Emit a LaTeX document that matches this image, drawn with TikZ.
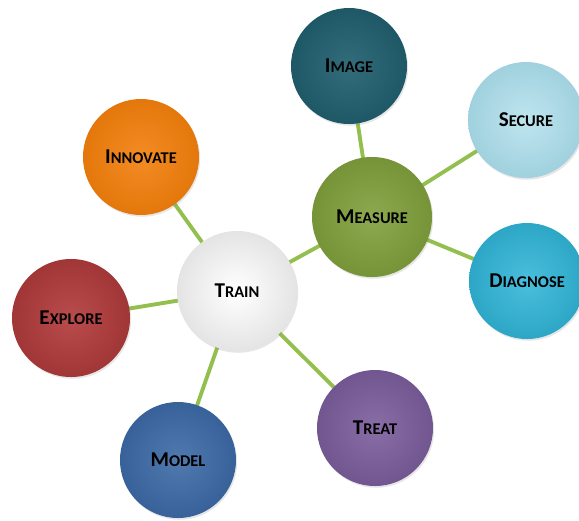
\documentclass[tikz,border=0pt]{standalone}
\usepackage{fontspec}
\setmainfont{Carlito}
\usetikzlibrary{shadows}
\definecolor{imgc}{HTML}{215F6E}
\definecolor{secc}{HTML}{A9DCEA}
\definecolor{innc}{HTML}{F27F0C}
\definecolor{meac}{HTML}{80A03C}
\definecolor{trac}{HTML}{E4E4E4}
\definecolor{diac}{HTML}{31B5D8}
\definecolor{expc}{HTML}{B33C3C}
\definecolor{trec}{HTML}{7B5D9C}
\definecolor{modc}{HTML}{3C6AA6}
\definecolor{linkc}{HTML}{93BF4F}
\newcommand{\capword}[2]{\textbf{{\fontsize{18}{20}\selectfont #1}{\fontsize{14}{16}\selectfont #2}}}
\tikzstyle{bubble} = [circle, minimum size=3.48cm, inner sep=0pt, text=black,
    drop shadow={opacity=0.2, shadow xshift=1pt, shadow yshift=-1.5pt}]
\tikzstyle{link} = [line width=3.3pt, linkc]

\begin{document}
\begin{tikzpicture}[x=0.03cm, y=-0.03cm]
\useasboundingbox (0,0) rectangle (579,520);
\coordinate (c-train) at (237,291);
\coordinate (c-measure) at (372,217);
% connectors first, balls on top
\draw[link] (c-train) -- (141,157) coordinate (c-innovate);
\draw[link] (c-train) -- (71,318) coordinate (c-explore);
\draw[link] (c-train) -- (178,460) coordinate (c-model);
\draw[link] (c-train) -- (375,428) coordinate (c-treat);
\draw[link] (c-train) -- (c-measure);
\draw[link] (c-measure) -- (349,66) coordinate (c-image);
\draw[link] (c-measure) -- (526,120) coordinate (c-secure);
\draw[link] (c-measure) -- (527,281) coordinate (c-diagnose);
\node[bubble, inner color=imgc!92!white, outer color=imgc!92!black] (image) at (c-image) {\capword{I}{MAGE}};
\node[bubble, inner color=secc!75!white, outer color=secc!95!black] (secure) at (c-secure) {\capword{S}{ECURE}};
\node[bubble, inner color=innc!90!white, outer color=innc!94!black] (innovate) at (c-innovate) {\capword{I}{NNOVATE}};
\node[bubble, minimum size=3.6cm, inner color=meac!90!white, outer color=meac!92!black] (measure) at (c-measure) {\capword{M}{EASURE}};
\node[bubble, minimum size=3.6cm, inner color=white, outer color=trac] (train) at (c-train) {\capword{T}{RAIN}};
\node[bubble, inner color=diac!88!white, outer color=diac!92!black] (diagnose) at (c-diagnose) {\capword{D}{IAGNOSE}};
\node[bubble, minimum size=3.54cm, inner color=expc!92!white, outer color=expc!90!black] (explore) at (c-explore) {\capword{E}{XPLORE}};
\node[bubble, inner color=trec!90!white, outer color=trec!92!black] (treat) at (c-treat) {\capword{T}{REAT}};
\node[bubble, inner color=modc!90!white, outer color=modc!92!black] (model) at (c-model) {\capword{M}{ODEL}};
\end{tikzpicture}
\end{document}
